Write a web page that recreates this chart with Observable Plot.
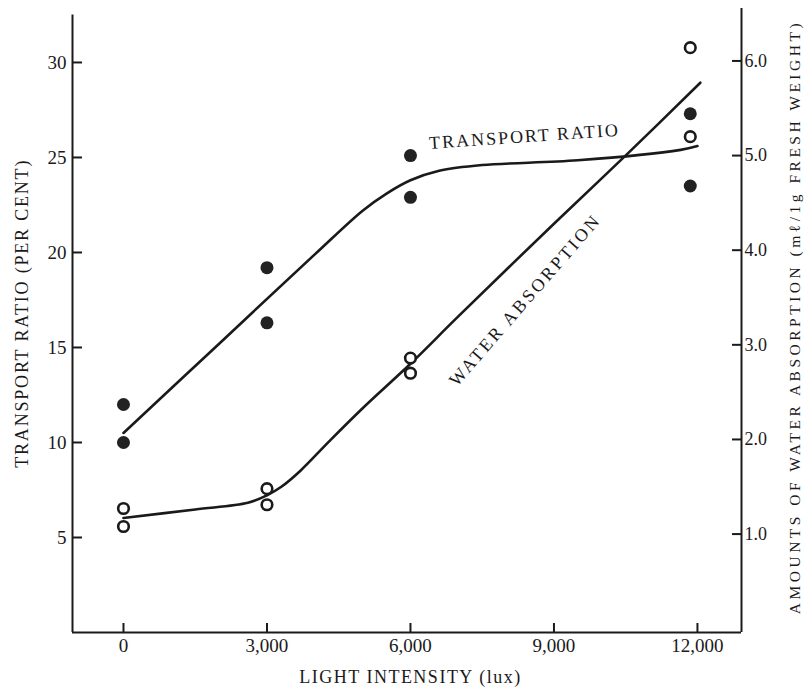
<!DOCTYPE html>
<html><head><meta charset="utf-8">
<script src="https://cdn.jsdelivr.net/npm/d3@7"></script>
<script src="https://cdn.jsdelivr.net/npm/@observablehq/plot@0.6"></script>
<style>body{margin:0;background:#fff;} svg{display:block;}</style>
</head><body><div id="chart"></div>
<script>
// ---- data ----
const xTicks = [0, 3000, 6000, 9000, 12000];
const leftTicks = [5, 10, 15, 20, 25, 30];
const rightTicks = [1.0, 2.0, 3.0, 4.0, 5.0, 6.0];

// Transport ratio (per cent), filled dots
const transportLux = [0, 0, 3000, 3000, 6000, 6000, 11850, 11850];
const transportVal = [12.0, 10.0, 19.2, 16.3, 25.1, 22.9, 27.3, 23.5];
// Water absorption (ml/1g fresh weight), open circles
const waterLux = [0, 0, 3000, 3000, 6000, 6000, 11850, 11850];
const waterVal = [1.27, 1.08, 1.48, 1.31, 2.86, 2.70, 6.14, 5.20];

// fitted curves as drawn
const transportCurveLux = [0, 2000, 4000, 5000, 5500, 6000, 6600, 7500, 9500, 11650, 12000];
const transportCurveVal = [10.5, 15.2, 19.9, 22.2, 23.1, 23.8, 24.3, 24.6, 24.85, 25.4, 25.6];
const waterCurveLux = [0, 1500, 2600, 3000, 3300, 3700, 4300, 5000, 6000, 7000, 9000, 10540, 12060];
const waterCurveVal = [1.17, 1.26, 1.33, 1.41, 1.50, 1.67, 1.98, 2.33, 2.80, 3.30, 4.28, 5.02, 5.77];

// right axis (absorption) -> left axis units
const toLeft = a => 0.2 + 4.98 * a;
const fromLeft = t => (t - 0.2) / 4.98;

const xDomain = [-1066, 12921];
const yTop = 32.84;
const serif = "'Liberation Serif', 'DejaVu Serif', serif";
const ink = "#1a1a1a";

const transportPts = transportLux.map((x, i) => ({x, y: transportVal[i]}));
const waterPts = waterLux.map((x, i) => ({x, y: toLeft(waterVal[i])}));
const transportCurve = transportCurveLux.map((x, i) => ({x, y: transportCurveVal[i]}));
const waterCurve = waterCurveLux.map((x, i) => ({x, y: toLeft(waterCurveVal[i])}));

const chart = Plot.plot({
  width: 804, height: 693,
  marginLeft: 72, marginRight: 63, marginTop: 8, marginBottom: 61,
  style: {fontFamily: serif, fontSize: "18px", color: ink, background: "#fff"},
  x: {domain: xDomain},
  y: {domain: [0, yTop]},
  marks: [
    Plot.ruleX([xDomain[0]], {y1: 0, y2: 32.5, stroke: ink, strokeWidth: 2}),
    Plot.ruleX([xDomain[1]], {y1: 0, y2: yTop, stroke: ink, strokeWidth: 2}),
    Plot.ruleY([0], {stroke: ink, strokeWidth: 2}),
    Plot.axisX(xTicks, {tickSize: -9, tickPadding: 15, tickFormat: d => d3.format(",")(d), label: null, fontSize: 19, strokeWidth: 2, stroke: ink}),
    Plot.axisY(leftTicks, {anchor: "left", tickSize: -10, tickPadding: 16, label: null, fontSize: 19, strokeWidth: 2, stroke: ink}),
    Plot.axisY(rightTicks.map(toLeft), {anchor: "right", tickSize: -10, tickPadding: 13, tickFormat: d => fromLeft(d).toFixed(1), label: null, fontSize: 18, strokeWidth: 2, stroke: ink}),
    Plot.line(transportCurve, {x: "x", y: "y", curve: "catmull-rom", stroke: ink, strokeWidth: 2.6}),
    Plot.line(waterCurve, {x: "x", y: "y", curve: "catmull-rom", stroke: ink, strokeWidth: 2.6}),
    Plot.dot(transportPts, {x: "x", y: "y", r: 6.5, fill: "#222", stroke: "none"}),
    Plot.dot(waterPts, {x: "x", y: "y", r: 5.3, fill: "#fff", stroke: ink, strokeWidth: 2.6}),
    Plot.text(["TRANSPORT RATIO"], {x: 8384, y: 26.1, rotate: -4, fontSize: 18, fill: ink}),
    Plot.text(["WATER ABSORPTION"], {x: 8400, y: 17.5, rotate: -49, fontSize: 18, fill: ink}),
    Plot.text(["TRANSPORT RATIO (PER CENT)"], {frameAnchor: "left", dx: -50, y: 16.8, rotate: -90, textAnchor: "middle", fontSize: 18, fill: ink}),
    Plot.text(["AMOUNTS OF WATER ABSORPTION (mℓ/1g FRESH WEIGHT)"], {frameAnchor: "right", dx: 54, y: 16.6, rotate: -90, textAnchor: "middle", fontSize: 15.5, fill: ink}),
    Plot.text(["LIGHT INTENSITY (lux)"], {frameAnchor: "bottom", dy: 50, x: 6000, fontSize: 18, fill: ink})
  ]
});

const spacing = {
  "TRANSPORT RATIO": "2px",
  "WATER ABSORPTION": "2.8px",
  "TRANSPORT RATIO (PER CENT)": "1.8px",
  "AMOUNTS OF WATER ABSORPTION (mℓ/1g FRESH WEIGHT)": "3.5px",
  "LIGHT INTENSITY (lux)": "1.5px"
};
d3.select(chart).selectAll("text").each(function() {
  const t = this.textContent;
  if (spacing[t]) this.style.letterSpacing = spacing[t];
});
document.getElementById("chart").appendChild(chart);
</script>
</body></html>
